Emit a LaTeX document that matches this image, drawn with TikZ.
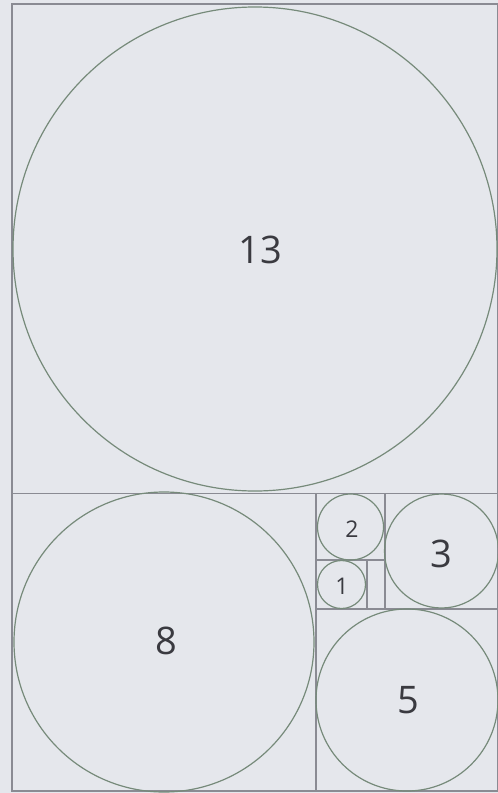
\documentclass[tikz,border=0pt]{standalone}
\usepackage{fontspec}
\setmainfont{Open Sans}
\definecolor{paper}{RGB}{229,231,236}
\definecolor{frame}{RGB}{138,139,147}
\definecolor{ring}{RGB}{118,138,122}
\definecolor{ink}{RGB}{58,58,64}
\tikzset{
	box/.style={draw=frame, line width=0.9pt},
	ring/.style={draw=ring, line width=0.6pt},
	num/.style={text=ink, inner sep=0pt, font=\fontsize{19}{22}\selectfont},
	smallnum/.style={num, font=\fontsize{11.5}{14}\selectfont}
}
\begin{document}
\begin{tikzpicture}[x=0.5pt, y=-0.5pt]
			%paper
			\fill[paper] (0,0) rectangle (498,793);
			\useasboundingbox (0,0) rectangle (498,793);
			
			%squares
			\draw[box] (12,4) rectangle (497.5,791);
			\draw[box] (12,493.5) -- (497.5,493.5);
			\draw[box] (316,493.5) -- (316,791);
			\draw[box] (316,609) -- (497.5,609);
			\draw[box] (385,493.5) -- (385,609);
			\draw[box] (316,560) -- (385,560);
			\draw[box] (367,560) -- (367,609);
			
			%circles
			\foreach \cx/\cy/\r in {255/249/242, 164/642/150, 407/700/91, 441.5/551/57, 350.5/527/33, 341.5/584.5/24}{
				\draw[ring] (\cx, \cy) circle (\r);
			}
			
			%numbers
			\foreach \n/\x/\y in {13/260/250, 8/166/641, 5/408/700, 3/441/554}{
				\node[num] (n\n) at (\x, \y){\n};
			}
			\node[smallnum] (n2) at (352, 529){2};
			\node[smallnum] (n1) at (342, 586){1};
		\end{tikzpicture}
\end{document}
